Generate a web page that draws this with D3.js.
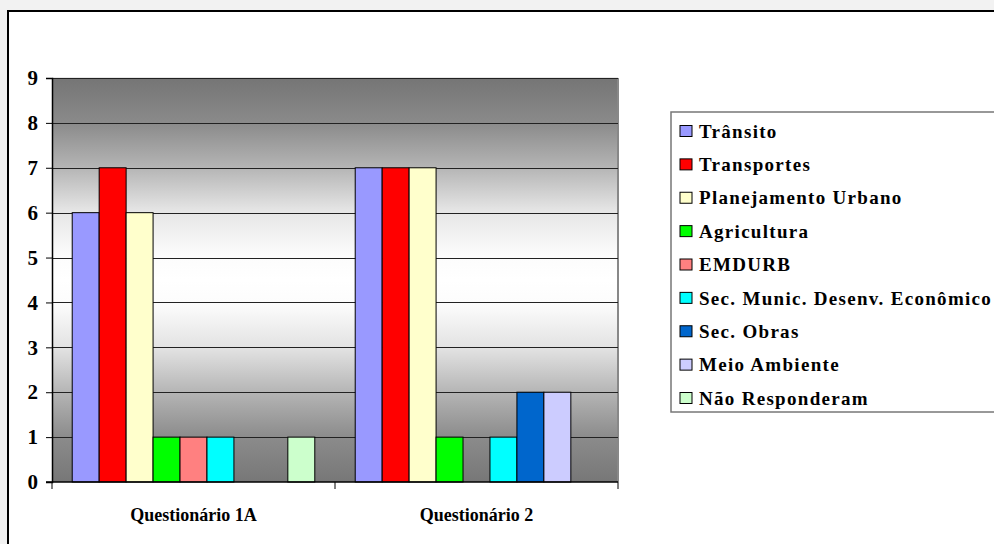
<!DOCTYPE html>
<html><head><meta charset="utf-8">
<script src="https://cdn.jsdelivr.net/npm/d3@7"></script>
<style>html,body{margin:0;padding:0;background:#f2f2f2;overflow:hidden}</style>
</head><body>
<svg id="c" width="994" height="544"></svg>
<script>
const categories = ["Questionário 1A", "Questionário 2"];
const seriesNames = ["Trânsito","Transportes","Planejamento Urbano","Agricultura","EMDURB","Sec. Munic. Desenv. Econômico","Sec. Obras","Meio Ambiente","Não Responderam"];
const seriesColors = ["#9999ff","#ff0000","#ffffcc","#00ff00","#ff8080","#00ffff","#0066cc","#ccccff","#ccffcc"];
const valuesQ1A = [6,7,6,1,1,1,0,0,1];
const valuesQ2  = [7,7,7,1,0,1,2,2,0];
const yTicks = [0,1,2,3,4,5,6,7,8,9];

const FONT = '"Liberation Serif"';
const values = [valuesQ1A, valuesQ2];
const svg = d3.select("#c");
const defs = svg.append("defs");
const g = defs.append("linearGradient").attr("id","bg").attr("x1",0).attr("y1",0).attr("x2",0).attr("y2",1);
[[0,"#757575"],[0.11,"#8a8a8a"],[0.22,"#b4b4b4"],[0.33,"#e6e6e6"],[0.44,"#fcfcfc"],[0.5,"#ffffff"],[0.56,"#fcfcfc"],[0.67,"#e2e2e2"],[0.78,"#b4b4b4"],[0.89,"#8b8b8b"],[1,"#777"]]
 .forEach(([o,c])=>g.append("stop").attr("offset",o).attr("stop-color",c));

// chart frame
svg.append("rect").attr("x",8).attr("y",11).attr("width",1010).attr("height",560)
  .attr("fill","#fff").attr("stroke","#000").attr("stroke-width",2);

const L=52, R=618, T=78, B=482;
const x0 = d3.scaleBand().domain(categories).range([L,R]).paddingInner(0).paddingOuter(0);
const x1 = d3.scaleBand().domain(d3.range(seriesNames.length)).range([0,x0.bandwidth()]).paddingOuter(0.75).paddingInner(0);
const y = d3.scaleLinear().domain([0,9]).range([B,T]);

svg.append("rect").attr("x",L).attr("y",T).attr("width",R-L).attr("height",B-T).attr("fill","url(#bg)");
svg.append("line").attr("x1",L).attr("x2",R).attr("y1",T).attr("y2",T).attr("stroke","#d0d0d0").attr("stroke-width",1);
svg.append("line").attr("x1",R).attr("x2",R).attr("y1",T).attr("y2",B).attr("stroke","#888").attr("stroke-width",2);

// gridlines
svg.append("g").selectAll("line").data(yTicks.filter(d=>d>0)).join("line")
  .attr("x1",L).attr("x2",R).attr("y1",d=>Math.round(y(d))+0.5).attr("y2",d=>Math.round(y(d))+0.5)
  .attr("stroke","#222").attr("stroke-width",1);

// bars
categories.forEach((c,ci)=>{
  svg.append("g").selectAll("rect").data(values[ci].map((v,i)=>({v,i})).filter(d=>d.v>0)).join("rect")
    .attr("x",d=>x0(c)+x1(d.i)).attr("width",x1.bandwidth())
    .attr("y",d=>y(d.v)).attr("height",d=>B-y(d.v))
    .attr("fill",d=>seriesColors[d.i]).attr("stroke","#000").attr("stroke-width",1);
});

// y axis
const ya = svg.append("g").attr("transform",`translate(${L},0)`)
  .call(d3.axisLeft(y).tickValues(yTicks).tickSize(6).tickPadding(8).tickFormat(d3.format("d")));
ya.select(".domain").attr("stroke","#000").attr("stroke-width",1.5);
ya.selectAll(".tick line").attr("stroke","#000");
ya.selectAll("text").style("font-family",FONT).style("font-weight","bold").style("font-size","21px").attr("fill","#000");

// x axis
const xa = svg.append("g").attr("transform",`translate(0,${B})`)
  .call(d3.axisBottom(x0).tickSize(0).tickPadding(26));
xa.select(".domain").remove();
svg.append("line").attr("x1",L-6).attr("x2",R).attr("y1",B).attr("y2",B).attr("stroke","#000").attr("stroke-width",1.5);
svg.append("g").selectAll("line").data([L, x0(categories[1]), R]).join("line")
  .attr("x1",d=>d).attr("x2",d=>d).attr("y1",B).attr("y2",B+7).attr("stroke","#000");
xa.selectAll("text").style("font-family",FONT).style("font-weight","bold").style("font-size","18px").attr("fill","#000");

// legend
const lg = svg.append("g");
lg.append("rect").attr("x",671).attr("y",112).attr("width",400).attr("height",300)
  .attr("fill","#fff").attr("stroke","#777").attr("stroke-width",1.5);
const ly = d3.scalePoint().domain(d3.range(seriesNames.length)).range([131,398]);
const items = lg.selectAll("g.it").data(seriesNames).join("g").attr("class","it")
  .attr("transform",(d,i)=>`translate(680,${ly(i)})`);
items.append("rect").attr("x",0).attr("y",-5.5).attr("width",12).attr("height",11)
  .attr("fill",(d,i)=>seriesColors[i]).attr("stroke","#000").attr("stroke-width",1);
items.append("text").attr("x",19).attr("y",0).attr("dy","0.35em").text(d=>d)
  .style("font-family",FONT).style("font-weight","bold")
  .style("font-size","19px").style("letter-spacing","1.3px").attr("fill","#000");
</script>
</body></html>
